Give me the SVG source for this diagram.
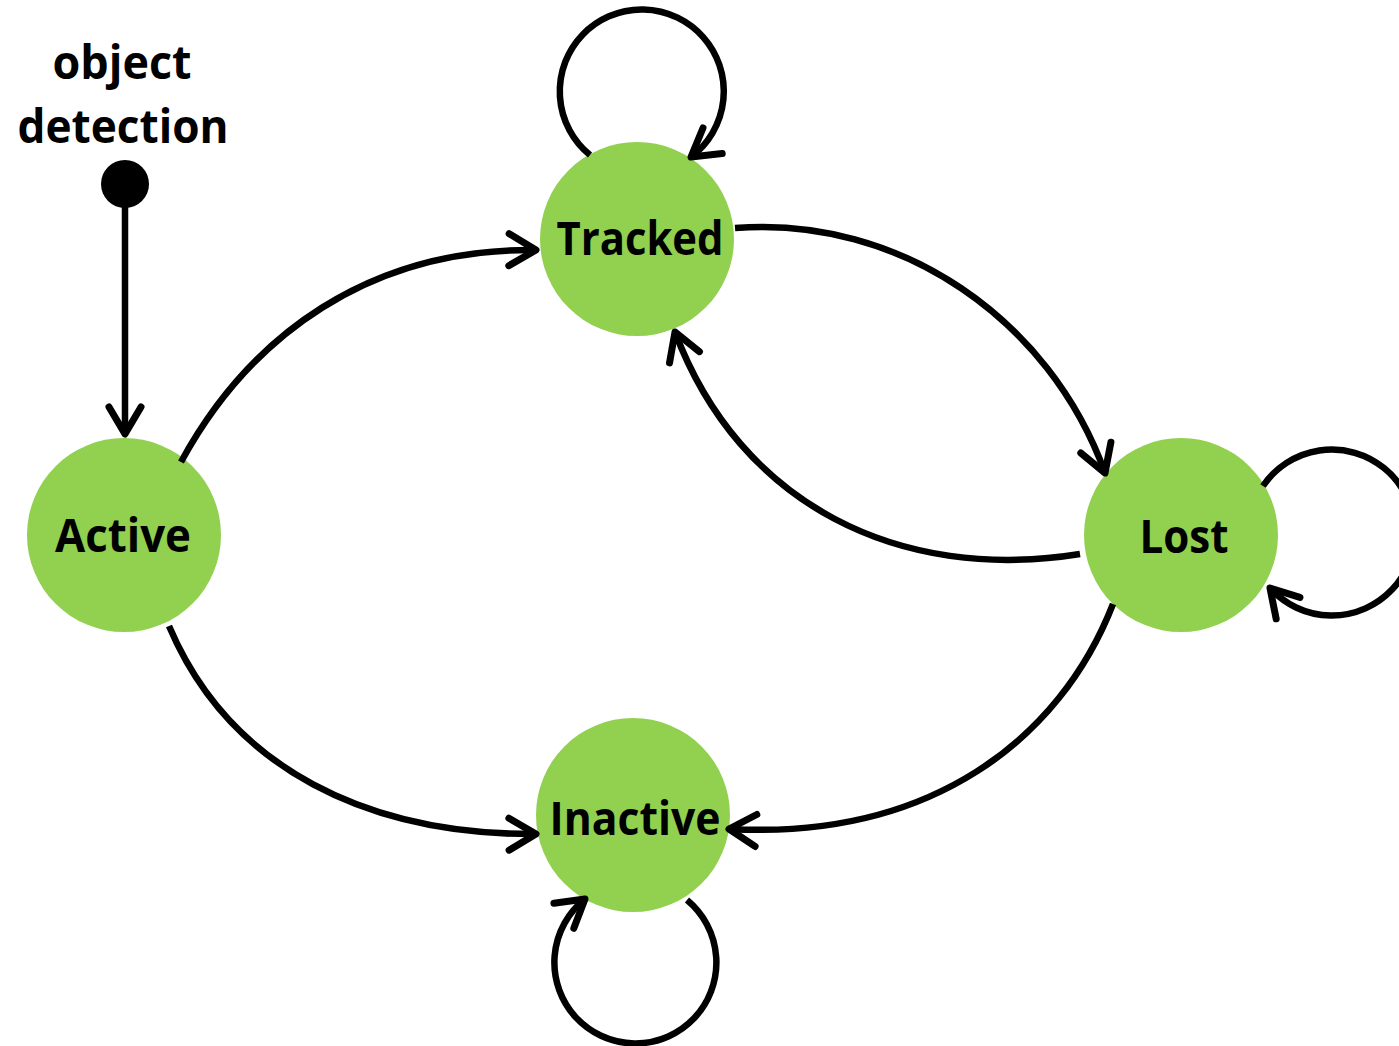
<svg xmlns="http://www.w3.org/2000/svg" width="1399" height="1046" viewBox="0 0 1399 1046">
  <style>
    .state { fill: #92D050; }
    .label { font-family: "Open Sans", "Noto Sans", "Liberation Sans", sans-serif; font-weight: bold; font-size: 46px; fill: #000; text-anchor: middle; }
    .edge { fill: none; stroke: #000; stroke-width: 6.5; stroke-linecap: butt; marker-end: url(#arrow); }
  </style>
  <defs>
    <marker id="arrow" markerUnits="userSpaceOnUse" markerWidth="60" markerHeight="60" viewBox="-40 -30 50 60" refX="0" refY="0" orient="auto" overflow="visible">
      <path d="M -27,-16 L 0,0 L -27,16" fill="none" stroke="#000" stroke-width="7" stroke-linecap="round" stroke-linejoin="round"/>
    </marker>
  </defs>
  <rect width="1399" height="1046" fill="#fff"/>

  <!-- states -->
  <g id="tracked">
    <circle class="state" cx="637" cy="239" r="97"/>
    <text class="label" x="640" y="255" textLength="167" lengthAdjust="spacingAndGlyphs">Tracked</text>
  </g>
  <g id="active">
    <circle class="state" cx="124" cy="535" r="97"/>
    <text class="label" x="123" y="552" textLength="136" lengthAdjust="spacingAndGlyphs">Active</text>
  </g>
  <g id="lost">
    <circle class="state" cx="1181" cy="535" r="97"/>
    <text class="label" x="1184" y="553" textLength="89" lengthAdjust="spacingAndGlyphs">Lost</text>
  </g>
  <g id="inactive">
    <circle class="state" cx="633" cy="815" r="97"/>
    <text class="label" x="635" y="835" textLength="171" lengthAdjust="spacingAndGlyphs">Inactive</text>
  </g>

  <!-- initial pseudo-state -->
  <g id="start">
    <text class="label" x="122" y="79" textLength="139" lengthAdjust="spacingAndGlyphs">object</text>
    <text class="label" x="123" y="143" textLength="211" lengthAdjust="spacingAndGlyphs">detection</text>
    <circle cx="125" cy="184" r="24" fill="#000"/>
  </g>

  <!-- transitions -->
  <g id="connectors">
    <path class="edge" d="M125,184 L125,434"/>
    <path class="edge" d="M181,462 C250,335 370,248 536,250"/>
    <path class="edge" d="M735,228 C900,215 1050,320 1105,473"/>
    <path class="edge" d="M1080,554 C900,583 740,505 675,332"/>
    <path class="edge" d="M169,626 C230,770 370,835 536,834"/>
    <path class="edge" d="M1113,604 C1060,740 930,840 729,829"/>
    <path class="edge" d="M590,155 A82,82 0 1 1 691,157"/>
    <path class="edge" d="M1263,486 A83,83 0 1 1 1270,588"/>
    <path class="edge" d="M687,900 A81,81 0 1 1 585,899"/>
  </g>
</svg>
